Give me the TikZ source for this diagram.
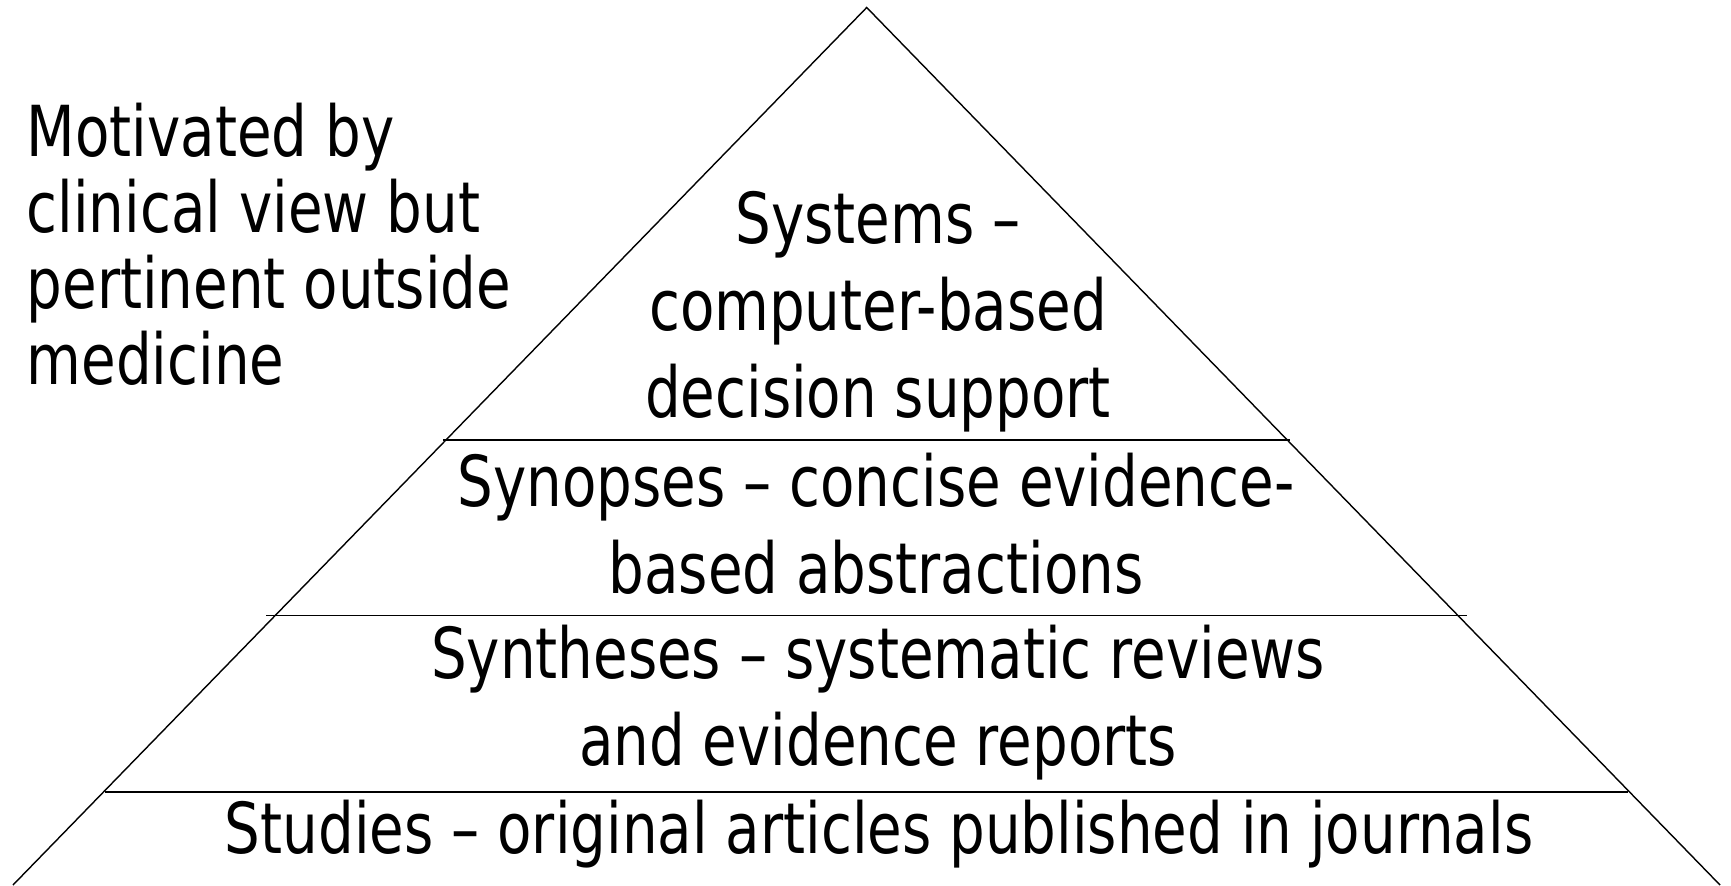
\documentclass[tikz,border=0pt]{standalone}
\usepackage{fontspec}
\setmainfont{DejaVu Sans}[FakeStretch=0.8]
\tikzset{
  tier/.style={align=center,inner sep=0pt,font=\fontsize{20}{24.75}\selectfont},
  note/.style={align=left,anchor=west,inner sep=0pt,font=\fontsize{20}{21.6}\selectfont}
}
\begin{document}
\begin{tikzpicture}[x=0.01cm,y=-0.01cm]
\useasboundingbox (0,0) rectangle (1731,885);
% pyramid
\coordinate (apex) at (866.7,7.5);
\coordinate (baseL) at (13,885);
\coordinate (baseR) at (1720,885);
\draw (baseL) -- (apex) -- (baseR);
\draw (443,440) -- (1290,440);
\draw (266,615.5) -- (1467,615.5);
\draw (105,792) -- (1628,792);
% levels
\node[tier] (systems) at (878,312) {Systems –\\computer-based\\decision support};
\node[tier] (synopses) at (876,524) {Synopses – concise evidence-\\based abstractions};
\node[tier] (syntheses) at (878,703) {Syntheses – systematic reviews\\and evidence reports};
\node[tier] (studies) at (879,834) {Studies – original articles published in journals};
% side note
\node[note] (motiv) at (26,244) {Motivated by\\clinical view but\\pertinent outside\\medicine};
\end{tikzpicture}
\end{document}
